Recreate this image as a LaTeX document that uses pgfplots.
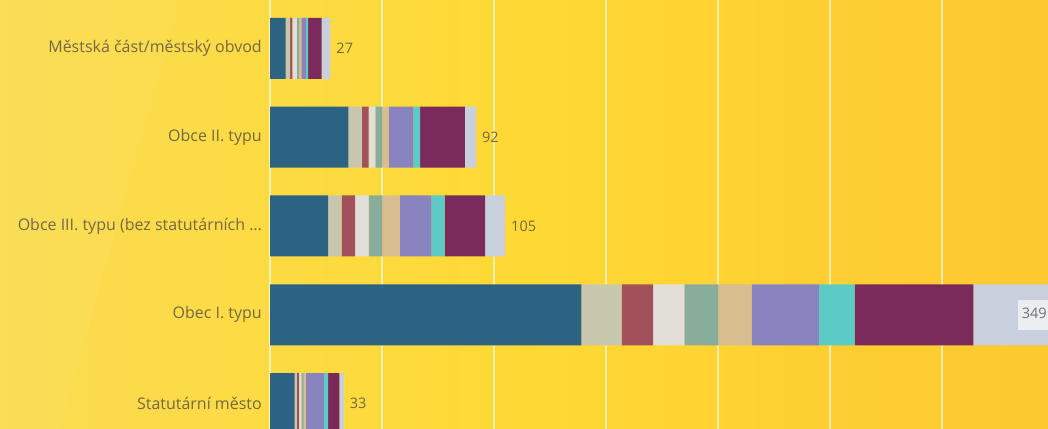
\documentclass[border=0pt]{standalone}
\usepackage{pgfplots}
\pgfplotsset{compat=1.18}
\usepackage{pgfplotstable}
\usepackage{fontspec}
\setmainfont{Open Sans}
\definecolor{bgL}{HTML}{FADC52}
\definecolor{bgM}{HTML}{FED934}
\definecolor{bgR}{HTML}{FDC830}
\definecolor{txt}{HTML}{736A45}
\definecolor{boxc}{HTML}{ECEDEF}
\definecolor{c1}{HTML}{2C6282}
\definecolor{c2}{HTML}{C9C6AE}
\definecolor{c3}{HTML}{A2505A}
\definecolor{c4}{HTML}{E2DFD8}
\definecolor{c5}{HTML}{88AD9B}
\definecolor{c6}{HTML}{D8BD8E}
\definecolor{c7}{HTML}{8983C0}
\definecolor{c8}{HTML}{5DCBC5}
\definecolor{c9}{HTML}{7B2A5C}
\definecolor{c10}{HTML}{C8D0DD}
\pgfplotstableread{
y c1 c2 c3 c4 c5 c6 c7 c8 c9 c10 total
0 11 1 1 1 1 1 8 2 5 2 33
1 139 18 14 14 15 15 30 16 53 35 349
2 26 6 6 6 6 8 14 6 18 9 105
3 35 6 3 3 3 3 11 3 20 5 92
4 7 2 1 2 1 1 2 1 6 4 27
}\datatable
\newcommand\totlabel[1]{\ifnum#1>300 \llap{\setlength{\fboxsep}{4bp}\colorbox{boxc}{\rule[-7bp]{0pt}{22bp}\textcolor{black!55}{#1}\hspace{1bp}}}\else\rlap{\hspace{6bp}#1}\fi}
\pgfplotsset{geom/.style={
  at={(270bp,0)}, anchor=south west,
  scale only axis,
  width=778bp, height=429bp,
  xmin=0, xmax=347.32,
  ymin=-0.287, ymax=4.546,
  clip=false}}
\begin{document}
\begin{tikzpicture}
\clip (0,0) rectangle (1048bp,429bp);
\shade[left color=bgL, right color=bgR, middle color=bgM] (0,0) rectangle (1048bp,429bp);
\fill[white, opacity=0.035] (0,429bp) -- (180bp,429bp) -- (60bp,0) -- (0,0) -- cycle;
\begin{axis}[
  geom,
  xbar stacked,
  bar width=61bp,
  axis line style={draw=none},
  major tick length=0pt,
  xtick={0,50,...,300},
  xticklabels={},
  xmajorgrids,
  grid style={white, opacity=0.6, line width=1.2bp},
  ytick={0,1,2,3,4},
  yticklabels={Statutární město, Obec I. typu, {Obce III. typu (bez statutárních …}, Obce II. typu, Městská část/městský obvod},
  yticklabel style={anchor=east, inner sep=0pt, xshift=-8bp, text=txt, font=\fontsize{16bp}{19bp}\selectfont},
  every axis plot/.append style={draw=none},
]
\addplot[fill=c1] table[x=c1,y=y]{\datatable};
\addplot[fill=c2] table[x=c2,y=y]{\datatable};
\addplot[fill=c3] table[x=c3,y=y]{\datatable};
\addplot[fill=c4] table[x=c4,y=y]{\datatable};
\addplot[fill=c5] table[x=c5,y=y]{\datatable};
\addplot[fill=c6] table[x=c6,y=y]{\datatable};
\addplot[fill=c7] table[x=c7,y=y]{\datatable};
\addplot[fill=c8] table[x=c8,y=y]{\datatable};
\addplot[fill=c9] table[x=c9,y=y]{\datatable};
\addplot[fill=c10] table[x=c10,y=y]{\datatable};
\end{axis}
\begin{axis}[geom, hide axis]
\addplot[draw=none, mark=none,
  point meta=explicit symbolic,
  nodes near coords={\totlabel{\pgfplotspointmeta}},
  nodes near coords align={center},
  nodes near coords style={anchor=center, inner sep=0pt, text=txt, font=\fontsize{14.5bp}{17bp}\selectfont},
] table[x=total,y=y,meta=total]{\datatable};
\end{axis}
\end{tikzpicture}
\end{document}
